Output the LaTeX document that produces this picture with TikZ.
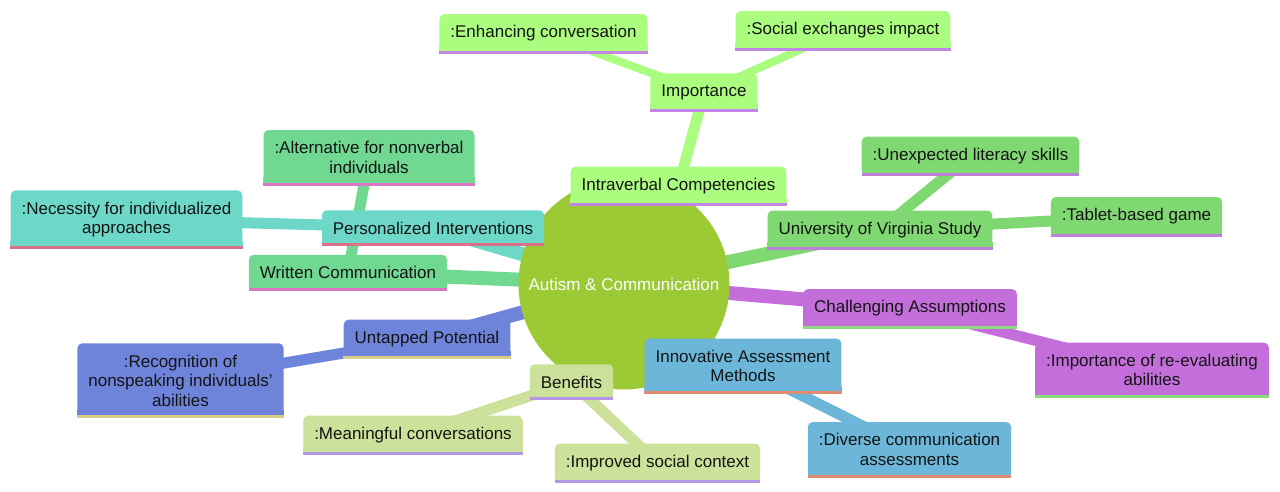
\documentclass[tikz,border=0pt]{standalone}
\usepackage{fontspec}
\setmainfont{Liberation Sans}
\usepackage{tikz}
\usetikzlibrary{backgrounds}
\definecolor{rootgreen}{HTML}{9BCA35}
\definecolor{ink}{HTML}{141414}
\definecolor{intrafill}{HTML}{ABFD80}
\definecolor{intraline}{HTML}{C286E4}
\definecolor{uvafill}{HTML}{80D872}
\definecolor{uvaline}{HTML}{BC80DA}
\definecolor{chalfill}{HTML}{C46EDC}
\definecolor{challine}{HTML}{8CDA80}
\definecolor{innofill}{HTML}{6CB7D9}
\definecolor{innoline}{HTML}{E08C6E}
\definecolor{benfill}{HTML}{CCE29A}
\definecolor{benline}{HTML}{B497E4}
\definecolor{untapfill}{HTML}{6E83DA}
\definecolor{untapline}{HTML}{DACB86}
\definecolor{writfill}{HTML}{70D890}
\definecolor{writline}{HTML}{DC76C4}
\definecolor{persfill}{HTML}{6ED8C8}
\definecolor{persline}{HTML}{DC7088}

\begin{document}
\begin{tikzpicture}[x=1pt,y=-1pt,
    topic/.style 2 args={rectangle,rounded corners=5pt,fill=#1,text=ink,
      font=\fontsize{17}{19.5}\selectfont,align=center,inner xsep=11pt,inner ysep=11.5pt,
      append after command={([yshift=4pt]\tikzlastnode.south west) edge[draw=#1,line width=8pt] ([yshift=4pt]\tikzlastnode.south east)
        ([yshift=1pt]\tikzlastnode.south west) edge[draw=#2,line width=3pt] ([yshift=1pt]\tikzlastnode.south east)}},
    branch/.style 2 args={draw=#1,line width=#2pt}]
  \useasboundingbox (0,0) rectangle (1280,492);

  \node[circle,fill=rootgreen,minimum size=211pt,text=white,font=\fontsize{17}{19.5}\selectfont] (root) at (624,284) {Autism \& Communication};

  \node[topic={intrafill}{intraline}] (intra) at (678.5,186) {Intraverbal Competencies};
  \node[topic={intrafill}{intraline}] (imp) at (704,92.5) {Importance};
  \node[topic={intrafill}{intraline}] (enh) at (543.5,33.5) {:Enhancing conversation};
  \node[topic={intrafill}{intraline}] (soc) at (843,30.5) {:Social exchanges impact};

  \node[topic={uvafill}{uvaline}] (uva) at (880,230) {University of Virginia Study};
  \node[topic={uvafill}{uvaline}] (lit) at (970.5,156) {:Unexpected literacy skills};
  \node[topic={uvafill}{uvaline}] (tab) at (1136.5,216.5) {:Tablet-based game};

  \node[topic={chalfill}{challine}] (chal) at (910,308.5) {Challenging Assumptions};
  \node[topic={chalfill}{challine}] (reev) at (1152,370) {:Importance of re-evaluating\\abilities};

  \node[topic={innofill}{innoline}] (inno) at (743,366) {Innovative Assessment\\Methods};
  \node[topic={innofill}{innoline}] (div) at (909.5,449.5) {:Diverse communication\\assessments};

  \node[topic={benfill}{benline}] (ben) at (571.5,382) {Benefits};
  \node[topic={benfill}{benline}] (mean) at (413,435) {:Meaningful conversations};
  \node[topic={benfill}{benline}] (impr) at (657.5,463) {:Improved social context};

  \node[topic={untapfill}{untapline}] (untap) at (427,339) {Untapped Potential};
  \node[topic={untapfill}{untapline}] (recog) at (180.5,380.5) {:Recognition of\\nonspeaking individuals'\\abilities};

  \node[topic={writfill}{writline}] (writ) at (348,272.5) {Written Communication};
  \node[topic={writfill}{writline}] (alt) at (369,157.5) {:Alternative for nonverbal\\individuals};

  \node[topic={persfill}{persline}] (pers) at (433,228) {Personalized Interventions};
  \node[topic={persfill}{persline}] (need) at (126.5,219.5) {:Necessity for individualized\\approaches};

  \begin{pgfonlayer}{background}
    \draw[branch={intrafill}{14}] (root.center) -- (intra.center);
    \draw[branch={intrafill}{11}] (intra.center) -- (imp.center);
    \draw[branch={intrafill}{8}] (imp.center) -- (enh.center);
    \draw[branch={intrafill}{8}] (imp.center) -- (soc.center);
    \draw[branch={uvafill}{14}] (root.center) -- (uva.center);
    \draw[branch={uvafill}{11}] (uva.center) -- (lit.center);
    \draw[branch={uvafill}{11}] (uva.center) -- (tab.center);
    \draw[branch={chalfill}{14}] (root.center) -- (chal.center);
    \draw[branch={chalfill}{11}] (chal.center) -- (reev.center);
    \draw[branch={innofill}{14}] (root.center) -- (inno.center);
    \draw[branch={innofill}{11}] (inno.center) -- (div.center);
    \draw[branch={benfill}{14}] (root.center) -- (ben.center);
    \draw[branch={benfill}{11}] (ben.center) -- (mean.center);
    \draw[branch={benfill}{11}] (ben.center) -- (impr.center);
    \draw[branch={untapfill}{14}] (root.center) -- (untap.center);
    \draw[branch={untapfill}{11}] (untap.center) -- (recog.center);
    \draw[branch={writfill}{14}] (root.center) -- (writ.center);
    \draw[branch={writfill}{11}] (writ.center) -- (alt.center);
    \draw[branch={persfill}{14}] (root.center) -- (pers.center);
    \draw[branch={persfill}{11}] (pers.center) -- (need.center);
  \end{pgfonlayer}
\end{tikzpicture}
\end{document}
